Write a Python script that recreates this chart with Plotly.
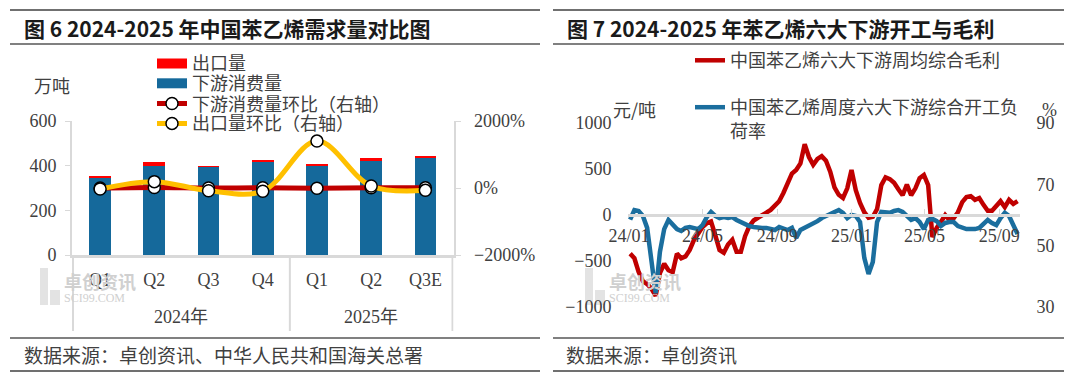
import plotly.graph_objects as go
import pandas as pd

W, H = 1080, 376

# ---------------- Left chart data (图6) ----------------
years = ["2024年", "2024年", "2024年", "2024年", "2025年", "2025年", "2025年"]
quarters = ["Q1", "Q2", "Q3", "Q4", "Q1", "Q2", "Q3E"]
consumption = [345, 398, 395, 418, 398, 423, 438]          # 下游消费量 (万吨)
exports = [5, 18, 3, 3, 9, 13, 4]                          # 出口量 (万吨)
consumption_qoq = [-3, 15, -1, 6, -5, 6, 4]                # 下游消费量环比 (%)
exports_qoq = [-30, 190, -80, -95, 1400, 60, -70]          # 出口量环比 (%)

# ---------------- Right chart data (图7) ----------------
week_start = "2024-01-03"
margin_profit = [
    -420, -470, -620, -720, -750, -800, -880, -630, -530, -600,
    -620, -420, -470, -450, -380, -270, -200, -130, -90, -70,
    -220, -380, -410, -320, -270, -400, -400, -230, -120, -60,
    -30, 5, 25, 55, 95, 150, 240, 350, 450, 490,
    560, 770, 630, 545, 610, 640, 590, 470, 300, 220,
    185, 290, 490, 270, 130, 30, -30, -20, 65, 325,
    410, 390, 350, 280, 215, 330, 215, 290, 400, 435,
    325, -240, -140, -75, 0, -55, -35, 30, 140, 195,
    205, 165, 185, 110, 45, 45, 100, 150, 85, 165,
    120, 150,
]
operating_rate = [
    58.5, 61.6, 61.3, 59.7, 55.8, 45.3, 34.5, 48.0, 55.4, 58.4,
    57.1, 55.4, 54.8, 55.8, 56.1, 55.8, 55.4, 56.7, 59.3, 61.0,
    59.7, 59.0, 59.3, 59.0, 59.3, 58.4, 57.7, 56.7, 56.4, 56.1,
    55.8, 55.8, 55.8, 55.4, 55.1, 56.1, 55.4, 55.1, 55.8, 52.5,
    55.1, 55.8, 56.4, 57.4, 58.0, 59.0, 59.7, 60.7, 61.0, 61.6,
    60.7, 59.0, 60.0, 59.7, 57.7, 46.0, 40.8, 44.7, 57.7, 61.0,
    61.0, 60.7, 61.3, 61.6, 61.0, 59.7, 58.4, 59.0, 57.7, 55.4,
    58.4, 58.7, 58.0, 56.4, 57.4, 57.7, 57.7, 56.4, 55.8, 55.4,
    55.4, 55.4, 55.8, 57.1, 58.4, 57.4, 56.7, 59.0, 60.7, 59.7,
    56.4, 53.8,
]
dates = pd.date_range(week_start, periods=len(margin_profit), freq="7D")

# ---------------- styling ----------------
CJK = "Noto Sans CJK SC"
SERIF = "Liberation Serif, Noto Sans CJK SC"
TXT = "#404040"
GRID = "#D9D9D9"
RED_BAR = "#FF0000"
BLUE_BAR = "#15699B"
DARK_RED = "#C00000"
YELLOW = "#FFC000"
BLUE_LINE = "#1B6E9E"


def px(x):
    return x / W


def py(y):
    return 1 - y / H


# unique category ids; tick text shows the quarter only
cat_ids = [f"{y}{q}" for y, q in zip(years, quarters)]

fig = go.Figure()
fig.add_trace(go.Bar(x=cat_ids, y=consumption, name="下游消费量", marker=dict(color=BLUE_BAR, line=dict(width=0)),
                     xaxis="x", yaxis="y", showlegend=False))
fig.add_trace(go.Bar(x=cat_ids, y=exports, name="出口量", marker=dict(color=RED_BAR, line=dict(width=0)),
                     xaxis="x", yaxis="y", showlegend=False))
mk = dict(size=12, color="white", line=dict(color="black", width=1.5))
fig.add_trace(go.Scatter(x=cat_ids, y=consumption_qoq, name="下游消费量环比（右轴）", mode="lines+markers",
                         line=dict(color=DARK_RED, width=5, shape="spline"), marker=mk,
                         xaxis="x", yaxis="y2", legend="legend3"))
fig.add_trace(go.Scatter(x=cat_ids, y=exports_qoq, name="出口量环比（右轴）", mode="lines+markers",
                         line=dict(color=YELLOW, width=5, shape="spline"), marker=mk,
                         xaxis="x", yaxis="y2", legend="legend4"))
# legend keys for the bar series (wide rectangles as in the original)
fig.add_trace(go.Scatter(x=[None], y=[None], name="出口量", mode="lines", line=dict(color=RED_BAR, width=10),
                         xaxis="x2", yaxis="y3", legend="legend"))
fig.add_trace(go.Scatter(x=[None], y=[None], name="下游消费量", mode="lines", line=dict(color=BLUE_BAR, width=10),
                         xaxis="x2", yaxis="y3", legend="legend2"))

# right chart
fig.add_trace(go.Scatter(x=dates, y=margin_profit, name="中国苯乙烯六大下游周均综合毛利", mode="lines",
                         line=dict(color=DARK_RED, width=4.5), xaxis="x2", yaxis="y3", legend="legend5"))
fig.add_trace(go.Scatter(x=dates, y=operating_rate, name="中国苯乙烯周度六大下游综合开工负<br>荷率", mode="lines",
                         line=dict(color=BLUE_LINE, width=4.5), xaxis="x2", yaxis="y4", legend="legend6"))

tickfont = dict(family=SERIF, size=18, color=TXT)

L_LEFT, L_RIGHT, L_TOP, L_BOT = 72, 453.5, 121, 255
R_TOP, R_BOT, R_ZERO = 123, 307, 215
R_LEFT, R_RIGHT = 628, 1020

layout = dict(
    template="none",
    width=W, height=H, autosize=False,
    margin=dict(l=0, r=0, t=0, b=0, pad=0, autoexpand=False),
    paper_bgcolor="white", plot_bgcolor="rgba(0,0,0,0)",
    barmode="stack", bargap=0.6,
    font=dict(family=CJK, color=TXT),
    xaxis=dict(domain=[px(L_LEFT), px(L_RIGHT)], anchor="y", type="category",
               tickvals=cat_ids, ticktext=quarters, automargin=False,
               showline=True, linecolor=GRID, linewidth=3, ticks="", ticklabelstandoff=6,
               tickfont=tickfont, showgrid=False, zeroline=False),
    yaxis=dict(domain=[py(L_BOT), py(L_TOP)], anchor="x", range=[0, 600], dtick=200, automargin=False,
               showline=True, linecolor=GRID, linewidth=2, ticks="outside", ticklen=5, tickcolor=GRID,
               ticklabelstandoff=5, tickfont=tickfont, showgrid=False, zeroline=False),
    yaxis2=dict(overlaying="y", side="right", anchor="x", range=[-2000, 2000], dtick=2000, automargin=False,
                ticksuffix="%", showline=True, linecolor=GRID, linewidth=2, ticks="outside", ticklen=5,
                tickcolor=GRID, ticklabelstandoff=10, tickfont=tickfont, showgrid=False, zeroline=False),
    xaxis2=dict(domain=[px(R_LEFT), px(R_RIGHT)], anchor="free", position=py(R_ZERO), type="date",
                range=["2023-12-30 12:00", "2025-10-05"], tick0="2024-01-01", dtick="M4", automargin=False,
                tickformat="%y/%m", showline=True, linecolor=GRID, linewidth=3,
                ticks="inside", ticklen=5, tickcolor=GRID, ticklabelstandoff=3,
                tickfont=tickfont, showgrid=False, zeroline=False),
    yaxis3=dict(domain=[py(R_BOT), py(R_TOP)], anchor="x2", range=[-1000, 1000], dtick=500, automargin=False,
                showline=False, ticks="outside", ticklen=12, tickcolor="rgba(0,0,0,0)",
                tickfont=tickfont, showgrid=False, zeroline=False),
    yaxis4=dict(overlaying="y3", side="right", anchor="x2", range=[30, 90], tick0=30, dtick=20,
                automargin=False, showline=False, ticks="outside", ticklen=12, tickcolor="rgba(0,0,0,0)",
                tickfont=tickfont, showgrid=False, zeroline=False),
)

legfont = dict(family=CJK, size=18, color=TXT)


def leg(xp, yp, yanchor="middle", valign="middle"):
    return dict(x=px(xp), y=py(yp), xanchor="left", yanchor=yanchor, bgcolor="rgba(0,0,0,0)",
                borderwidth=0, font=legfont, valign=valign, itemwidth=30)


layout["legend"] = leg(152, 63.7)
layout["legend2"] = leg(152, 83.6)
layout["legend3"] = leg(152, 103.8)
layout["legend4"] = leg(152, 123.7)
layout["legend5"] = leg(690, 60.6)
layout["legend6"] = leg(690, 89, yanchor="top", valign="top")

fig.update_layout(**layout)

# frame lines (title / footer rules)
shapes = []
for x0, x1 in [(10, 540), (553, 1064)]:
    shapes.append(dict(type="line", xref="paper", yref="paper", x0=px(x0), x1=px(x1), y0=py(10), y1=py(10),
                       line=dict(color="#404040", width=1.5)))
    shapes.append(dict(type="line", xref="paper", yref="paper", x0=px(x0), x1=px(x1), y0=py(44), y1=py(44),
                       line=dict(color="#808080", width=2)))
    shapes.append(dict(type="line", xref="paper", yref="paper", x0=px(x0), x1=px(x1), y0=py(338), y1=py(338),
                       line=dict(color="#808080", width=2)))
    shapes.append(dict(type="line", xref="paper", yref="paper", x0=px(x0), x1=px(x1), y0=py(371), y1=py(371),
                       line=dict(color="#404040", width=1.5)))
# year-group dividers of the category axis (at group boundaries)
n = len(cat_ids)
bounds = [-0.5] + [i - 0.5 for i in range(1, n) if years[i] != years[i - 1]] + [n - 0.5]
for b in bounds:
    shapes.append(dict(type="line", xref="x", yref="paper", x0=b, x1=b, y0=py(L_BOT), y1=py(331),
                       line=dict(color=GRID, width=2)))
# watermark blocks
for wx in [40, 585]:
    shapes.append(dict(type="rect", xref="paper", yref="paper", x0=px(wx), x1=px(wx + 8), y0=py(305), y1=py(268),
                       fillcolor="#E3E3E3", line=dict(width=0), layer="below"))
    shapes.append(dict(type="rect", xref="paper", yref="paper", x0=px(wx + 10), x1=px(wx + 20), y0=py(305), y1=py(290),
                       fillcolor="#E3E3E3", line=dict(width=0), layer="below"))
fig.update_layout(shapes=shapes)

ann = []


def text(x, y, s, size=18, family=CJK, color=TXT, xanchor="left", yanchor="middle", xref="paper"):
    ann.append(dict(x=px(x) if xref == "paper" else x, y=py(y), xref=xref, yref="paper", text=s, showarrow=False,
                    xanchor=xanchor, yanchor=yanchor, font=dict(size=size, family=family, color=color)))


text(22, 28, "<b>图 6 2024-2025 年中国苯乙烯需求量对比图</b>", size=21, color="#1A1A1A")
text(565, 28, "<b>图 7 2024-2025 年苯乙烯六大下游开工与毛利</b>", size=21, color="#1A1A1A")
text(22, 354, "数据来源：卓创资讯、中华人民共和国海关总署", size=19)
text(564, 354, "数据来源：卓创资讯", size=19)
text(52, 85, "万吨", size=18, xanchor="center")
text(634, 109, "元/吨", size=18, xanchor="center")
text(1049, 110, "%", size=18, family=SERIF, xanchor="center")
# year labels centred under their quarters
for yr in dict.fromkeys(years):
    idx = [i for i, v in enumerate(years) if v == yr]
    text(sum(idx) / len(idx), 317, yr, size=18, family=SERIF, xanchor="center", xref="x")
for wx in [62, 607]:
    text(wx, 281, "<b>卓创资讯</b>", size=18, color="#D0D0D0")
    text(wx, 298, "SCI99.COM", size=12, family=SERIF, color="#D0D0D0")
fig.update_layout(annotations=ann)

post = ("document.body.style.margin='0';document.body.style.padding='0';"
        "document.documentElement.style.overflow='hidden';"
        "var gd=document.getElementById('{plot_id}');Plotly.relayout(gd,{width:1080,height:376});")
fig.write_html("out.html", post_script=post, config={"displayModeBar": False, "responsive": False})
